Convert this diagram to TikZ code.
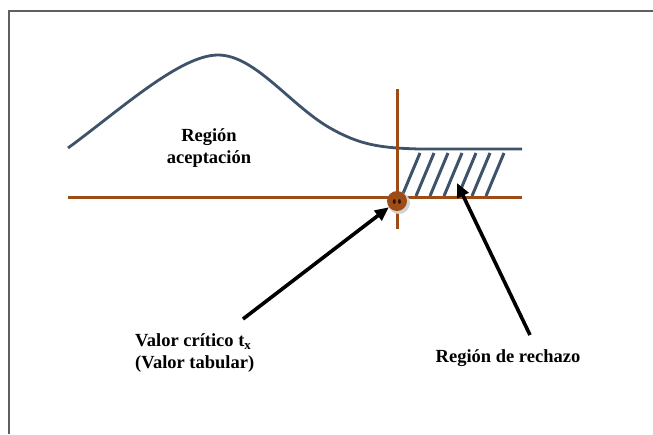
\documentclass[tikz,border=0pt]{standalone}
\usepackage{fontspec}
\setmainfont{Liberation Serif}
\usetikzlibrary{arrows.meta,positioning}
\definecolor{ejecafe}{RGB}{158,76,22}
\definecolor{curvaazul}{RGB}{62,82,106}
\definecolor{marcogris}{RGB}{95,95,95}
\begin{document}
\begin{tikzpicture}[x=1pt,y=-1pt,
		etiqueta/.style={font=\bfseries\fontsize{18.5}{22}\selectfont,inner sep=0pt},
		eje/.style={draw=ejecafe,line width=3pt},
		flecha/.style={draw=black,line width=3.6pt,-{Triangle[length=14pt,width=12pt]}},
		rayado/.style={draw=curvaazul,line width=3pt}]
				\useasboundingbox (0,0) rectangle (653,434);
				\draw[marcogris,line width=1.6pt] (9,434) -- (9,11) -- (653,11);

				\draw[curvaazul,line width=2.8pt] (68,148) .. controls (120,110) and (180,55) .. (218,55) .. controls (255,55) and (290,105) .. (330,128) .. controls (360,145) and (380,148) .. (420,149) -- (522,149);
				\foreach \k in {0,...,6}
					\draw[rayado] ({402+14*\k},196) -- ({420+14*\k},153);

				\coordinate (ejeizq) at (68,197);
				\coordinate (ejeder) at (522,197);
				\coordinate (critsup) at (397,89);
				\coordinate (critinf) at (397,229);
				\draw[eje] (ejeizq) -- (ejeder);
				\draw[eje] (critsup) -- (critinf);

				\fill[gray!35] (399,203) circle (11);
				\node[circle,fill=ejecafe,minimum size=20pt,inner sep=0pt] (tx) at (397,201) {};
				\fill[black!75!ejecafe] (394.3,201.5) ellipse (1.4 and 2.4);
				\fill[black!75!ejecafe] (399.5,201.5) ellipse (1.4 and 2.4);

				\node[etiqueta,align=center] (aceptacion) at (209,148) {Región\\aceptación};
				\node[etiqueta,align=left,anchor=west] (valor) at (135,353) {Valor crítico t\textsubscript{x}\\(Valor tabular)};
				\node[etiqueta,anchor=base] (rechazo) at (508,362) {Región de rechazo};

				\coordinate (colaA) at (243,319);
				\coordinate (colaB) at (530,335);
				\coordinate (puntorechazo) at (457,183);
				\draw[flecha] (colaA) -- (tx);
				\draw[flecha] (colaB) -- (puntorechazo);
\end{tikzpicture}
\end{document}
